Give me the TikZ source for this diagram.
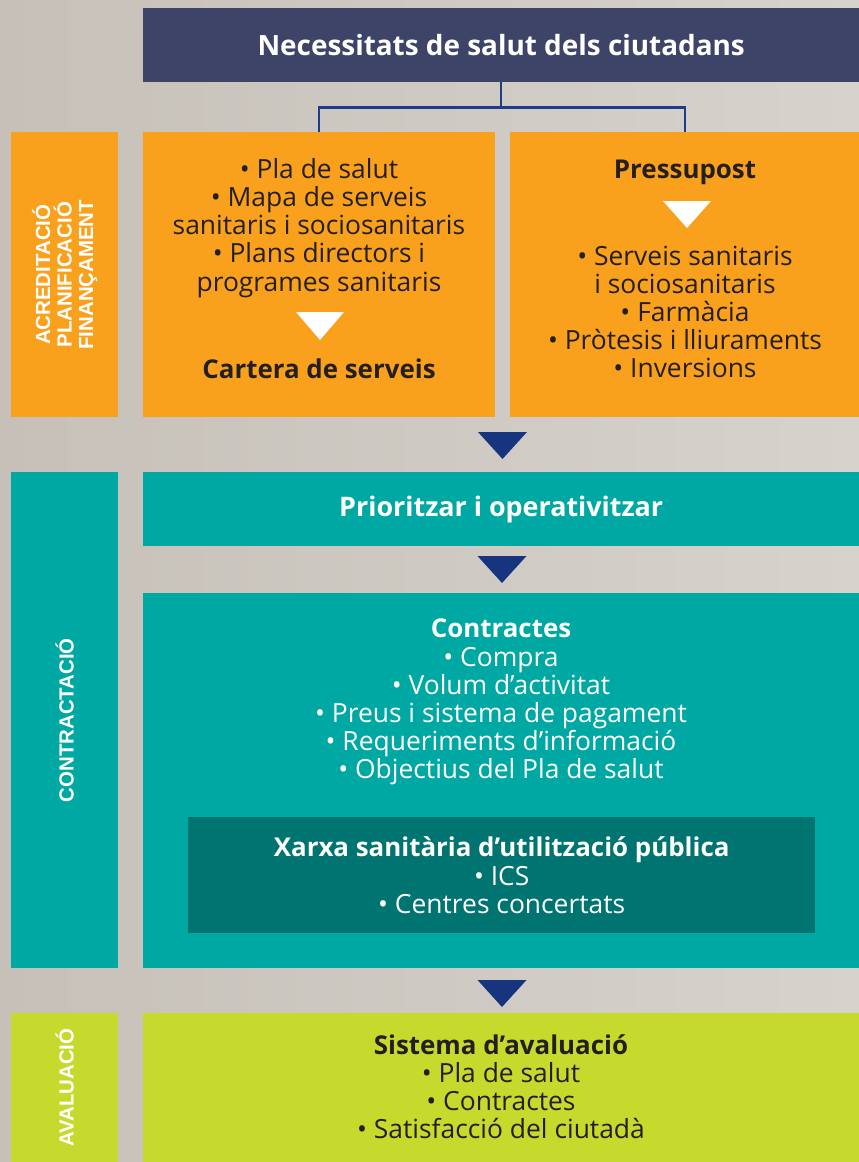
\documentclass[tikz,border=0pt]{standalone}
\usepackage{fontspec}
\setmainfont{Open Sans}
\newfontfamily\labelfont{Liberation Sans}
\usetikzlibrary{calc}

\definecolor{navy}{HTML}{3D4468}
\definecolor{linkblue}{HTML}{1E3C8A}
\definecolor{tripblue}{HTML}{17347F}
\definecolor{orangebox}{HTML}{F9A01D}
\definecolor{tealbox}{HTML}{00A8A3}
\definecolor{darkteal}{HTML}{007471}
\definecolor{greenbox}{HTML}{C6DA2E}
\definecolor{ink}{HTML}{231F20}
\definecolor{bgleft}{HTML}{C6C0B8}
\definecolor{bgright}{HTML}{D6D3CD}

\def\downtri[#1](#2)(#3:#4){\fill[#1] ($(#2)+(-#3,0)$) -- ($(#2)+(#3,0)$) -- ($(#2)+(0,#4)$) -- cycle;}
\newcommand\hd[1]{{\fontsize{26}{28.2}\selectfont\bfseries #1}}

\tikzset{
  box/.style={inner sep=0, anchor=north west},
  body/.style={inner sep=0, align=center, text=ink, font=\fontsize{26.5}{28.2}\selectfont},
  head/.style={body, font=\bfseries\fontsize{26}{28.2}\selectfont},
  sidelabel/.style={inner sep=0, align=center, text=white, rotate=90, font=\labelfont\bfseries\fontsize{20.5}{21.5}\selectfont},
  conn/.style={line width=2.2bp, color=linkblue}
}

\begin{document}
\begin{tikzpicture}[x=1bp, y=-1bp]
		%%%%% START %%%%%
		
		\shade[left color=bgleft, right color=bgright] (0,0) rectangle (859,1162);
		\useasboundingbox (0,0) rectangle (859,1162);
		
		% top
		\node[box, fill=navy, minimum width=716bp, minimum height=74bp, text=white, font=\bfseries\fontsize{28}{30}\selectfont] (need) at (143,8) {Necessitats de salut dels ciutadans};
		
		% acreditacio / planificacio / financament
		\node[box, fill=orangebox, minimum width=107bp, minimum height=285bp] (planlbl) at (11,132) {};
		\node[box, fill=orangebox, minimum width=352bp, minimum height=285bp] (cartera) at (143,132) {};
		\node[box, fill=orangebox, minimum width=349bp, minimum height=285bp] (press) at (510,132) {};
		
		\draw[conn] (need.south) -- ($(need.south)+(0,25)$) -| (cartera.north);
		\draw[conn] (need.south) -- ($(need.south)+(0,25)$) -| (press.north);
		
		\node[sidelabel] (plantxt) at (planlbl.center) {ACREDITACIÓ\\PLANIFICACIÓ\\FINANÇAMENT};
		
		\node[body] (plalist) at (319,228) {• Pla de salut\\• Mapa de serveis\\sanitaris i sociosanitaris\\• Plans directors i\\programes sanitaris};
		\downtri[white](320,312)(24:28);
		\node[head] (carteratxt) at (319,369) {Cartera de serveis};
		
		\node[head] (presstxt) at (685,172) {Pressupost};
		\downtri[white](687,201)(24:27);
		\node[body] (presslist) at (685,312) {• Serveis sanitaris\\i sociosanitaris\\• Farmàcia\\• Pròtesis i lliuraments\\• Inversions};
		
		\downtri[tripblue](502.5,432)(24.5:27);
		
		% contractacio
		\node[box, fill=tealbox, minimum width=107bp, minimum height=496bp] (contlbl) at (11,472) {};
		\node[sidelabel] (conttxt) at (contlbl.center) {CONTRACTACIÓ};
		\node[box, fill=tealbox, minimum width=716bp, minimum height=74bp, text=white, font=\bfseries\fontsize{27}{28.2}\selectfont] (prior) at (143,472) {Prioritzar i operativitzar};
		
		\downtri[tripblue](502,556)(24.5:27);
		
		\node[box, fill=tealbox, minimum width=716bp, minimum height=375bp] (contr) at (143,593) {};
		\node[body, text=white] (contrlist) at (501,702) {\hd{Contractes}\\• Compra\\• Volum d’activitat\\• Preus i sistema de pagament\\• Requeriments d’informació\\• Objectius del Pla de salut};
		
		\node[box, fill=darkteal, minimum width=627bp, minimum height=116bp] (xarxa) at (188,817) {};
		\node[body, text=white] (xarxatxt) at (xarxa.center) {\hd{Xarxa sanitària d’utilització pública}\\• ICS\\• Centres concertats};
		
		\downtri[tripblue](502,980)(24.5:27);
		
		% avaluacio
		\node[box, fill=greenbox, minimum width=107bp, minimum height=149bp] (avallbl) at (11,1013) {};
		\node[sidelabel] (avaltxt) at (avallbl.center) {AVALUACIÓ};
		\node[box, fill=greenbox, minimum width=716bp, minimum height=149bp] (aval) at (143,1013) {};
		\node[body] (avallist) at (501,1087) {\hd{Sistema d’avaluació}\\• Pla de salut\\• Contractes\\• Satisfacció del ciutadà};
		
		%%%%% END %%%%%
\end{tikzpicture}
\end{document}
